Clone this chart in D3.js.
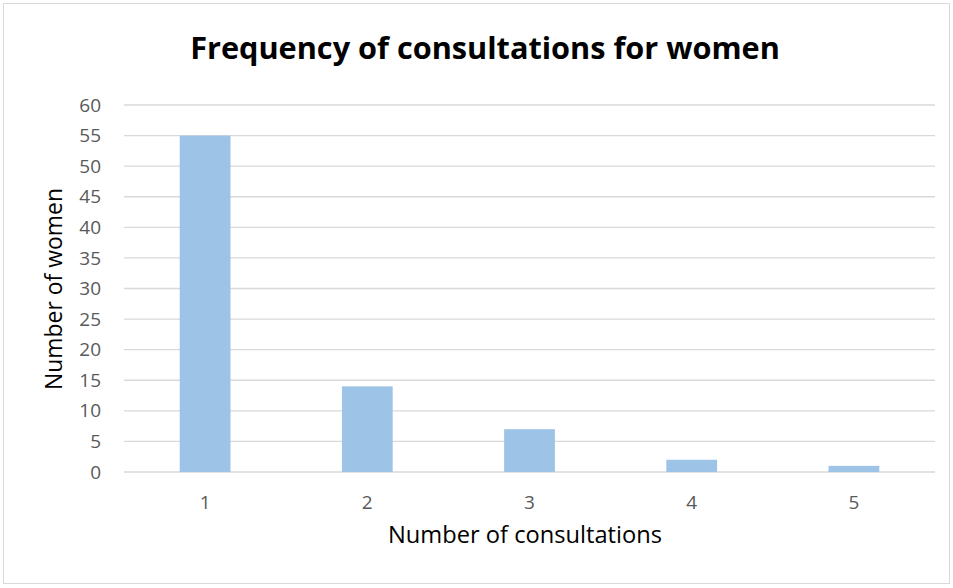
<!DOCTYPE html>
<html><head><meta charset="utf-8">
<script src="https://cdn.jsdelivr.net/npm/d3@7"></script>
<style>body{margin:0;background:#fff}svg{display:block}text{font-family:"Open Sans","Noto Sans",sans-serif}</style>
</head><body>
<svg id="c" width="953" height="588"></svg>
<script>
const categories = ["1","2","3","4","5"];
const values = [55, 14, 7, 2, 1];
const yTicks = [0,5,10,15,20,25,30,35,40,45,50,55,60];
const title = "Frequency of consultations for women";
const xTitle = "Number of consultations";
const yTitle = "Number of women";

const svg = d3.select("#c");
svg.append("rect").attr("x",3.5).attr("y",3.5).attr("width",946).attr("height",580)
  .attr("fill","#fff").attr("stroke","#d9d9d9");

const m = {l:124, r:935, t:105, b:472};
const x = d3.scaleBand().domain(categories).range([m.l, m.r]).paddingInner(0.687).paddingOuter(0.3435);
const y = d3.scaleLinear().domain([0,60]).range([m.b, m.t]);

svg.append("g").selectAll("line").data(yTicks).join("line")
  .attr("x1",m.l).attr("x2",m.r).attr("y1",d=>y(d)).attr("y2",d=>y(d))
  .attr("stroke","#d9d9d9").attr("stroke-width",1.3);

svg.append("g").selectAll("rect").data(values).join("rect")
  .attr("x",(d,i)=>x(categories[i])).attr("width",x.bandwidth())
  .attr("y",d=>y(d)).attr("height",d=>y(0)-y(d)).attr("fill","#9dc3e6");

const yAxis = d3.axisLeft(y).tickValues(yTicks).tickSize(0).tickPadding(23);
const gy = svg.append("g").attr("transform",`translate(${m.l},0)`).call(yAxis);
gy.select(".domain").remove();
gy.selectAll("text").attr("font-size",19).attr("fill","#595959").style("font-family",'"Open Sans",sans-serif');

const xAxis = d3.axisBottom(x).tickSize(0).tickPadding(24);
const gx = svg.append("g").attr("transform",`translate(0,${m.b})`).call(xAxis);
gx.select(".domain").remove();
gx.selectAll("text").attr("font-size",19).attr("fill","#595959").style("font-family",'"Open Sans",sans-serif');

function fit(sel, target){
  const w = sel.node().getComputedTextLength();
  const fs = parseFloat(sel.attr("font-size"));
  sel.attr("font-size", fs*target/w);
}
const t = svg.append("text").attr("x",485).attr("y",59).attr("text-anchor","middle")
  .attr("font-size",27).attr("font-weight","bold").attr("fill","#000").text(title);
fit(t, 590);
const xt = svg.append("text").attr("x",525).attr("y",543).attr("text-anchor","middle")
  .attr("font-size",19).attr("fill","#000").text(xTitle);
fit(xt, 274);
const yt = svg.append("text").attr("transform","translate(62,289) rotate(-90)").attr("text-anchor","middle")
  .attr("font-size",19).attr("fill","#000").text(yTitle);
fit(yt, 202);
</script>
</body></html>
